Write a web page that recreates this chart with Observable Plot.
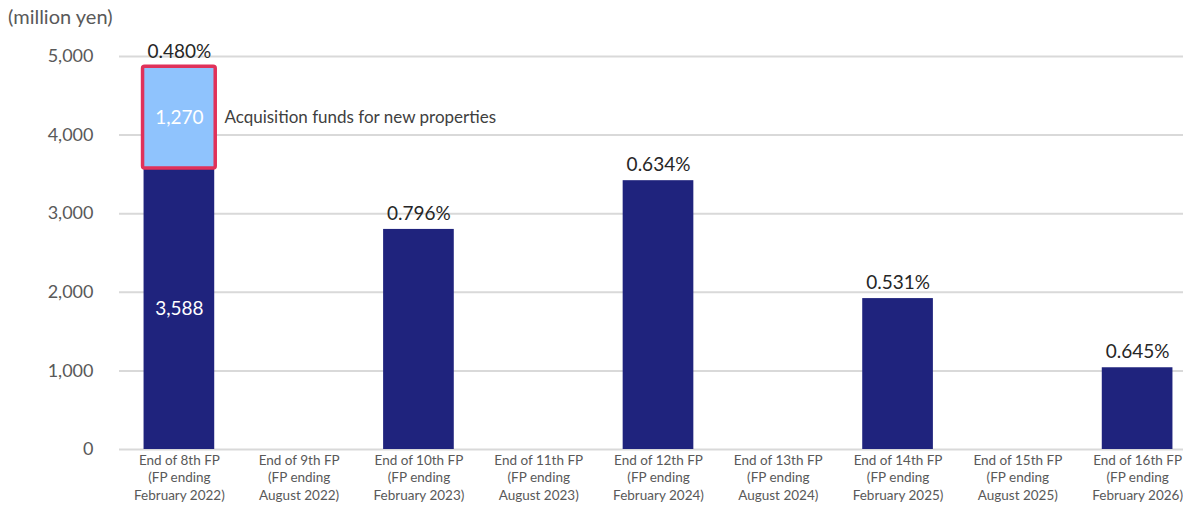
<!DOCTYPE html>
<html>
<head>
<meta charset="utf-8">
<script src="https://cdn.jsdelivr.net/npm/d3@7"></script>
<script src="https://cdn.jsdelivr.net/npm/@observablehq/plot@0.6"></script>
<style>
  html, body { margin: 0; padding: 0; background: #fff; overflow: hidden; }
  #wrap { position: relative; width: 1183px; height: 506px; overflow: hidden; font-family: Lato, "Open Sans", sans-serif; }
  #unit { position: absolute; left: 8px; top: 4px; font-size: 20px; color: #595959; }
  #chart { position: absolute; left: 0; top: 0; width: 1197px; }
</style>
</head>
<body>
<div id="wrap">
  <div id="chart"></div>
  <div id="unit">(million yen)</div>
</div>
<script>
const periods = [
  "End of 8th FP\n(FP ending\nFebruary 2022)",
  "End of 9th FP\n(FP ending\nAugust 2022)",
  "End of 10th FP\n(FP ending\nFebruary 2023)",
  "End of 11th FP\n(FP ending\nAugust 2023)",
  "End of 12th FP\n(FP ending\nFebruary 2024)",
  "End of 13th FP\n(FP ending\nAugust 2024)",
  "End of 14th FP\n(FP ending\nFebruary 2025)",
  "End of 15th FP\n(FP ending\nAugust 2025)",
  "End of 16th FP\n(FP ending\nFebruary 2026)"
];
const existingDebt = [3588, null, 2800, null, 3420, null, 1920, null, 1040];
const newDebt      = [1270, null, null, null, null, null, null, null, null];
const rates        = ["0.480%", null, "0.796%", null, "0.634%", null, "0.531%", null, "0.645%"];
const showInside   = [true, false, false, false, false, false, false, false, false];
const annotation   = "Acquisition funds for new properties";
const yTicks = [0, 1000, 2000, 3000, 4000, 5000];

const rows = [];
periods.forEach((p, i) => {
  if (existingDebt[i] != null) rows.push({period: p, type: "existing", value: existingDebt[i], label: showInside[i] ? d3.format(",")(existingDebt[i]) : ""});
  if (newDebt[i] != null) rows.push({period: p, type: "new", value: newDebt[i], label: d3.format(",")(newDebt[i])});
});
const totals = periods.map((p, i) => ({
  period: p,
  total: (existingDebt[i] || 0) + (newDebt[i] || 0),
  rate: rates[i]
})).filter(d => d.rate != null);
const newBox = periods.map((p, i) => ({
  period: p, y1: existingDebt[i] || 0, y2: (existingDebt[i] || 0) + (newDebt[i] || 0), has: newDebt[i] != null
})).filter(d => d.has);

const font = "Lato, 'Open Sans', sans-serif";

const chart = Plot.plot({
  width: 1197,
  height: 506,
  marginLeft: 119,
  marginRight: 0,
  marginTop: 56,
  marginBottom: 57,
  style: {fontFamily: font, background: "transparent", overflow: "visible", maxWidth: "none"},
  x: {domain: periods, paddingInner: 0.41, paddingOuter: 0.205, round: false, label: null},
  y: {domain: [0, 5000], label: null},
  color: {domain: ["existing", "new"], range: ["#1f237d", "#8fc3fd"]},
  marks: [
    Plot.gridY(yTicks, {stroke: "#d9d9d9", strokeOpacity: 1, strokeWidth: 2}),
    Plot.axisY(yTicks, {tickSize: 0, tickPadding: 26, tickFormat: d3.format(","), fontSize: 18, fill: "#595959", label: null}),
    Plot.axisX({tickSize: 0, tickPadding: 3, fontSize: 13.5, fill: "#595959", lineHeight: 1.29, label: null}),
    Plot.barY(rows, {x: "period", y: "value", fill: "type"}),
    Plot.rect(newBox, {x: "period", y1: "y1", y2: "y2", fill: "none", stroke: "#e0315a", strokeWidth: 3.5, rx: 2, inset: -1}),
    Plot.text(rows, Plot.stackY({x: "period", y: "value", text: "label", fill: "white", fontSize: 19})),
    Plot.text(newBox, {x: "period", y: d => (d.y1 + d.y2) / 2, text: () => annotation, textAnchor: "start", dx: 45, fontSize: 17, fill: "#404040"}),
    Plot.text(totals, {x: "period", y: "total", text: "rate", dy: -16, fontSize: 19, fill: "#262626"})
  ]
});
document.getElementById("chart").appendChild(chart);
</script>
</body>
</html>
